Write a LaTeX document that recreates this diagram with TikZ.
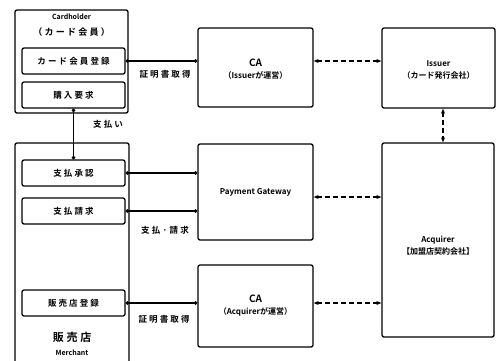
\documentclass[tikz,border=0pt]{standalone}
\usepackage{fontspec}
\setmainfont{Noto Sans CJK JP}[BoldFont={Noto Sans CJK JP Bold}]
\usetikzlibrary{arrows.meta}
\newfontfamily\spaced{Noto Sans CJK JP Bold}[LetterSpace=25]
\begin{document}
\begin{tikzpicture}[x=1pt,y=-1pt,
  box/.style={draw,line width=1.3pt,rounded corners=2pt,inner sep=0pt},
  inbox/.style={box,minimum width=103pt,minimum height=26pt,font=\fontsize{8.5}{10}\spaced},
  lbl/.style={inner sep=0pt,font=\fontsize{8.5}{10}\spaced},
  txt/.style={inner sep=0pt,align=center,font=\fontsize{8}{12}\bfseries},
  sline/.style={line width=1.1pt,{Circle[length=3.4pt]}-{Circle[length=3.4pt]}},
  dline/.style={line width=1.1pt,dash pattern=on 5pt off 3pt,{Stealth[length=5pt,width=4pt]}-{Stealth[length=5pt,width=4pt]}}]
\useasboundingbox (0,0) rectangle (501,360);
\clip (0,0) rectangle (501,360);
% Cardholder
\node[box,minimum width=113pt,minimum height=103pt] (ch) at (71.5,61.5) {};
\node[txt,font=\fontsize{7}{8}\bfseries] (cht) at (71.5,17) {Cardholder};
\node[lbl,font=\fontsize{9}{10}\spaced] (cht2) at (71.5,32) {（カード会員）};
\node[inbox] (reg) at (73.5,61) {カード会員登録};
\node[inbox] (buy) at (73.5,95) {購入要求};
% Merchant
\node[box,minimum width=114pt,minimum height=230pt] (mer) at (72,258) {};
\node[inbox] (appr) at (73.5,173) {支払承認};
\node[inbox] (req) at (73.5,211) {支払請求};
\node[inbox] (mreg) at (73.5,303) {販売店登録};
\node[lbl,font=\fontsize{11}{12}\spaced] (mt) at (72,337) {販売店};
\node[txt,font=\fontsize{7}{8}\bfseries] (mt2) at (72,353) {Merchant};
% CA Issuer
\node[box,minimum width=115pt,minimum height=79pt] (caI) at (255.5,67.5) {};
\node[txt] (caIt) at (255.5,69) {{\fontsize{10}{10}\selectfont CA}\\（Issuerが運営）};
% Issuer
\node[box,minimum width=113pt,minimum height=80pt] (iss) at (438.5,68) {};
\node[txt] (isst) at (438.5,70) {Issuer\\（カード発行会社）};
% Payment Gateway
\node[box,minimum width=115pt,minimum height=96pt,font=\fontsize{8}{10}\bfseries] (pg) at (255.5,192) {Payment Gateway};
% CA Acquirer
\node[box,minimum width=115pt,minimum height=82pt] (caA) at (255.5,306) {};
\node[txt] (caAt) at (255.5,306) {{\fontsize{10}{10}\selectfont CA}\\（Acquirerが運営）};
% Acquirer
\node[box,minimum width=112pt,minimum height=194pt] (acq) at (438,240) {};
\node[txt] (acqt) at (438,246) {Acquirer\\【加盟店契約会社】};
% connectors
\draw[sline] (reg.east) -- (reg.east -| caI.west);
\node[lbl] (l1) at (165,74) {証明書取得};
\draw[sline] (buy.south) -- (appr.north);
\node[lbl] (l2) at (108,124) {支払い};
\draw[sline] (appr.east) -- (appr.east -| pg.west);
\draw[sline] (req.east) -- (req.east -| pg.west);
\node[lbl] (l3) at (165,230) {支払·請求};
\draw[sline] (mreg.east) -- (mreg.east -| caA.west);
\node[lbl] (l4) at (164,319) {証明書取得};
\draw[dline] (reg.east -| caI.east) -- (reg.east -| iss.west);
\draw[dline] ([yshift=-5pt]pg.east) -- ([yshift=-5pt]pg.east -| acq.west);
\draw[dline] (mreg.east -| caA.east) -- (mreg.east -| acq.west);
\draw[dline] ([xshift=4.5pt]iss.south) -- ([xshift=5pt]acq.north);
\end{tikzpicture}
\end{document}
